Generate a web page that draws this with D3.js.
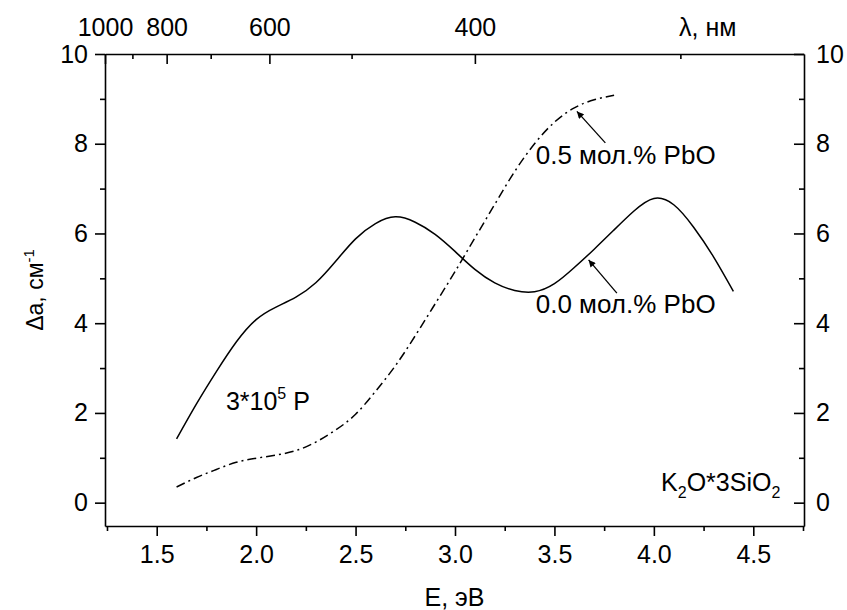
<!DOCTYPE html>
<html>
<head>
<meta charset="utf-8">
<script src="https://cdn.jsdelivr.net/npm/d3@7"></script>
<style>
  body { margin: 0; background: #fff; }
  svg { font-family: "Liberation Sans", Arial, sans-serif; }
  .axis text { font-size: 25px; fill: #000; }
  .axis path, .axis line { stroke: #000; stroke-width: 1.6px; }
</style>
</head>
<body>
<svg id="chart"></svg>
<script>
const width = 847;
const height = 610;

// photon energy, eV
const energy0 = [1.6, 1.7, 1.8, 1.9, 2.0, 2.1, 2.2, 2.3, 2.4, 2.5, 2.6, 2.7, 2.8, 2.9, 3.0,
                 3.1, 3.2, 3.3, 3.4, 3.5, 3.6, 3.7, 3.8, 3.9, 4.0, 4.1, 4.2, 4.3, 4.4];
// 0.0 mol.% PbO
const absorb0 = [1.42, 2.2, 2.92, 3.58, 4.08, 4.36, 4.58, 4.9, 5.38, 5.88, 6.22, 6.37, 6.25, 5.98, 5.6,
                 5.2, 4.9, 4.73, 4.7, 4.88, 5.24, 5.65, 6.08, 6.5, 6.78, 6.64, 6.14, 5.48, 4.71];

const energy5 = [1.6, 1.7, 1.8, 1.9, 2.0, 2.1, 2.2, 2.3, 2.4, 2.5, 2.6, 2.7,
                 2.8, 2.9, 3.0, 3.1, 3.2, 3.3, 3.4, 3.5, 3.6, 3.7, 3.8];
// 0.5 mol.% PbO
const absorb5 = [0.35, 0.56, 0.74, 0.9, 0.99, 1.06, 1.16, 1.35, 1.62, 1.97, 2.48, 3.05,
                 3.72, 4.43, 5.15, 5.9, 6.65, 7.38, 8.0, 8.48, 8.8, 8.98, 9.08];

const xTicks = [1.5, 2.0, 2.5, 3.0, 3.5, 4.0, 4.5];
const xMinor = [1.25, 1.75, 2.25, 2.75, 3.25, 3.75, 4.25, 4.75];
const yTicks = [0, 2, 4, 6, 8, 10];
const yMinor = [1, 3, 5, 7, 9];
const lambdaTicks = [1000, 800, 600, 400];   // nm
const lambdaMinor = [900, 700, 500, 300];

const margin = {top: 54, right: 43, bottom: 84, left: 105};

const svg = d3.select("#chart")
    .attr("width", width)
    .attr("height", height);

const x = d3.scaleLinear()
    .domain([1.24, 4.755])
    .range([margin.left, width - margin.right]);

const y = d3.scaleLinear()
    .domain([-0.52, 10])
    .range([height - margin.bottom, margin.top]);

const toE = l => 1240 / l;

// minor ticks first
const minorTicks = (axis, vals, transform) => {
    svg.append("g").attr("class", "axis").attr("transform", transform)
        .call(axis.tickValues(vals).tickFormat(""))
        .select(".domain").remove();
};

minorTicks(d3.axisBottom(x).tickSize(5), xMinor, `translate(0,${y.range()[0]})`);
minorTicks(d3.axisLeft(y).tickSize(5), yMinor, `translate(${x.range()[0]},0)`);
minorTicks(d3.axisRight(y).tickSize(-5), yMinor, `translate(${x.range()[1]},0)`);
minorTicks(d3.axisTop(x).tickSize(-5), lambdaMinor.map(toE), `translate(0,${y.range()[1]})`);

// bottom
svg.append("g").attr("class", "axis")
    .attr("transform", `translate(0,${y.range()[0]})`)
    .call(d3.axisBottom(x).tickValues(xTicks).tickSizeInner(10).tickSizeOuter(0)
        .tickPadding(9).tickFormat(d3.format(".1f")));

// left
svg.append("g").attr("class", "axis")
    .attr("transform", `translate(${x.range()[0]},0)`)
    .call(d3.axisLeft(y).tickValues(yTicks).tickSizeInner(10).tickSizeOuter(0)
        .tickPadding(7).tickFormat(d3.format("d")));

// right, ticks inward
svg.append("g").attr("class", "axis")
    .attr("transform", `translate(${x.range()[1]},0)`)
    .call(d3.axisRight(y).tickValues(yTicks).tickSizeInner(-10).tickSizeOuter(0)
        .tickPadding(12).tickFormat(d3.format("d")));

// top, wavelength
svg.append("g").attr("class", "axis")
    .attr("transform", `translate(0,${y.range()[1]})`)
    .call(d3.axisTop(x).tickValues(lambdaTicks.map(toE)).tickSizeInner(-10).tickSizeOuter(0)
        .tickPadding(18).tickFormat(d => Math.round(1240 / d)));

svg.append("text")
    .attr("x", 679).attr("y", 36)
    .attr("font-size", 25)
    .text("λ, нм");

// axis titles
svg.append("text")
    .attr("x", (x.range()[0] + x.range()[1]) / 2)
    .attr("y", 606)
    .attr("text-anchor", "middle")
    .attr("font-size", 25)
    .text("E, эВ");

const yt = svg.append("text")
    .attr("transform", `translate(43,${(y.range()[0] + y.range()[1]) / 2}) rotate(-90)`)
    .attr("text-anchor", "middle")
    .attr("font-size", 23);
yt.append("tspan").text("Δa, см");
yt.append("tspan").attr("dy", -9).attr("font-size", 15).text("-1");

// curves
const line = d3.line()
    .x(d => x(d[0]))
    .y(d => y(d[1]))
    .curve(d3.curveNatural);

svg.append("path")
    .datum(d3.zip(energy0, absorb0))
    .attr("d", line)
    .attr("fill", "none")
    .attr("stroke", "#000")
    .attr("stroke-width", 1.5);

svg.append("path")
    .datum(d3.zip(energy5, absorb5))
    .attr("d", line)
    .attr("fill", "none")
    .attr("stroke", "#000")
    .attr("stroke-width", 1.5)
    .attr("stroke-dasharray", "9,4,2,4");

// annotations
svg.append("defs").append("marker")
    .attr("id", "arrow")
    .attr("viewBox", "0 0 10 10")
    .attr("refX", 10).attr("refY", 5)
    .attr("markerWidth", 10).attr("markerHeight", 7)
    .attr("markerUnits", "userSpaceOnUse")
    .attr("orient", "auto")
    .append("path")
    .attr("d", "M0,0L10,5L0,10z")
    .attr("fill", "#000");

const arrows = [
    [[3.756, 8.02], [3.613, 8.72]],
    [[3.814, 4.67], [3.672, 5.41]]
];
arrows.forEach(a => {
    svg.append("line")
        .attr("x1", x(a[0][0])).attr("y1", y(a[0][1]))
        .attr("x2", x(a[1][0])).attr("y2", y(a[1][1]))
        .attr("stroke", "#000")
        .attr("stroke-width", 1.3)
        .attr("marker-end", "url(#arrow)");
});

svg.append("text")
    .attr("x", x(3.406)).attr("y", y(7.55))
    .attr("font-size", 26)
    .text("0.5 мол.% PbO");

svg.append("text")
    .attr("x", x(3.406)).attr("y", y(4.23))
    .attr("font-size", 26)
    .text("0.0 мол.% PbO");

const dose = svg.append("text")
    .attr("x", x(1.848)).attr("y", y(2.07))
    .attr("font-size", 25);
dose.append("tspan").text("3*10");
dose.append("tspan").attr("dy", -11).attr("font-size", 16).text("5");
dose.append("tspan").attr("dy", 11).text(" P");

const glass = svg.append("text")
    .attr("x", x(4.636)).attr("y", y(0.27))
    .attr("text-anchor", "end")
    .attr("font-size", 25);
glass.append("tspan").text("K");
glass.append("tspan").attr("dy", 7).attr("font-size", 16).text("2");
glass.append("tspan").attr("dy", -7).text("O*3SiO");
glass.append("tspan").attr("dy", 7).attr("font-size", 16).text("2");
</script>
</body>
</html>
